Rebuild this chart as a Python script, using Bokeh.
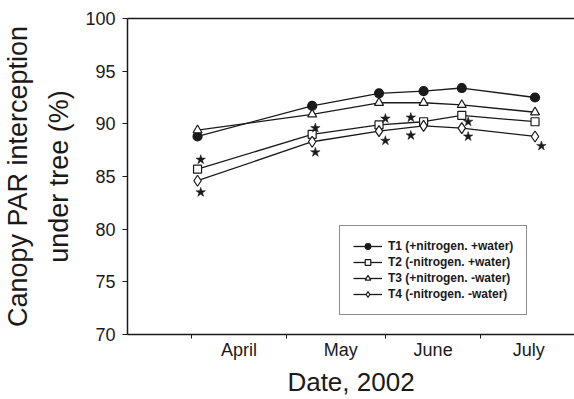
import numpy as np
import pandas as pd
from bokeh.plotting import figure
from bokeh.models import (FixedTicker, LinearAxis, Legend, LegendItem, Range1d)
from bokeh.embed import file_html
from bokeh.resources import INLINE

# ---- data ----
dates = ["2002-04-03", "2002-05-09", "2002-05-30", "2002-06-13", "2002-06-25", "2002-07-18"]
t1 = [88.8, 91.7, 92.9, 93.1, 93.4, 92.5]
t2 = [85.7, 89.0, 89.9, 90.2, 90.8, 90.2]
t3 = [89.4, 90.9, 92.0, 92.0, 91.8, 91.1]
t4 = [84.6, 88.3, 89.3, 89.8, 89.6, 88.8]

star_dates = ["2002-04-04", "2002-04-04", "2002-05-10", "2002-05-10", "2002-06-01", "2002-06-01",
              "2002-06-09", "2002-06-09", "2002-06-27", "2002-06-27", "2002-07-20"]
star_vals = [86.6, 83.5, 89.6, 87.3, 90.5, 88.4, 90.6, 88.9, 90.2, 88.8, 87.9]

month_starts = ["2002-04-01", "2002-05-01", "2002-06-01", "2002-07-01"]
month_label_dates = ["2002-04-16", "2002-05-18", "2002-06-16", "2002-07-16"]
month_labels = ["April", "May", "June", "July"]
y_ticks = [70, 75, 80, 85, 90, 95, 100]

series_labels = ["T1 (+nitrogen. +water)", "T2 (-nitrogen. +water)",
                 "T3 (+nitrogen. -water)", "T4 (-nitrogen. -water)"]

# ---- derived ----
def doy(lst):
    return [int(v) for v in pd.to_datetime(lst).dayofyear]

x = doy(dates)
sx = doy(star_dates)
ms = doy(month_starts)
mids = doy(month_label_dates)

FONT = "Liberation Sans"
INK = "#1a1a1a"

p = figure(width=574, height=399, output_backend="svg", toolbar_location=None,
           x_range=Range1d(71, 211.4), y_range=Range1d(70, 100),
           min_border_left=125, min_border_right=0, min_border_top=18, min_border_bottom=65)
p.outline_line_color = None
p.xgrid.visible = False
p.ygrid.visible = False
p.background_fill_color = "white"
p.border_fill_color = "white"

# y axis
ya = p.yaxis[0]
ya.ticker = FixedTicker(ticks=y_ticks)
ya.major_label_text_font = FONT
ya.major_label_text_font_size = "18px"
ya.major_label_text_color = INK
ya.major_tick_out = 5
ya.major_tick_in = 0
ya.minor_tick_line_color = None
ya.axis_line_color = INK
ya.axis_line_width = 1.5
ya.major_tick_line_color = INK
ya.major_label_standoff = 7
ya.axis_label = "Canopy PAR interception\nunder tree (%)"
ya.axis_label_text_font = FONT
ya.axis_label_text_font_size = "27px"
ya.axis_label_text_font_style = "normal"
ya.axis_label_text_color = INK
ya.axis_label_text_line_height = 1.37
ya.axis_label_standoff = 8

# x axis
xa = p.xaxis[0]
xa.ticker = FixedTicker(ticks=mids, minor_ticks=ms)
xa.major_label_overrides = {m: l for m, l in zip(mids, month_labels)}
xa.major_label_text_font = FONT
xa.major_label_text_font_size = "18px"
xa.major_label_text_color = INK
xa.major_tick_out = 0
xa.major_tick_in = 0
xa.major_tick_line_color = None
xa.minor_tick_out = 4
xa.minor_tick_in = 0
xa.minor_tick_line_color = INK
xa.axis_line_color = INK
xa.axis_line_width = 1.5
xa.major_label_standoff = 1
xa.axis_label = "Date, 2002"
xa.axis_label_text_font = FONT
xa.axis_label_text_font_size = "26px"
xa.axis_label_text_font_style = "normal"
xa.axis_label_text_color = INK
xa.axis_label_standoff = 4

# top border line
top = LinearAxis(ticker=FixedTicker(ticks=[]), major_tick_line_color=None,
                 minor_tick_line_color=None, major_label_text_font_size="0px",
                 axis_line_color=INK, axis_line_width=1.5)
p.add_layout(top, "above")

# series
lw = 1.3
r1l = p.line(x, t1, line_color=INK, line_width=lw)
r2l = p.line(x, t2, line_color=INK, line_width=lw)
r3l = p.line(x, t3, line_color=INK, line_width=lw)
r4l = p.line(x, t4, line_color=INK, line_width=lw)
r1m = p.scatter(x, t1, marker="circle", size=9, fill_color=INK, line_color=INK, line_width=1.2)
r2m = p.scatter(x, t2, marker="square", size=8, fill_color="white", line_color=INK, line_width=1.2)
r3m = p.scatter(x, t3, marker="triangle", size=9, fill_color="white", line_color=INK, line_width=1.2)
r4m = p.scatter(x, t4, marker="diamond", size=11, fill_color="white", line_color=INK, line_width=1.2)

# significance stars
p.scatter(sx, star_vals, marker="star", size=10, fill_color=INK, line_color=INK, line_width=0.5)

legend = Legend(items=[LegendItem(label=series_labels[0], renderers=[r1l, r1m]),
                       LegendItem(label=series_labels[1], renderers=[r2l, r2m]),
                       LegendItem(label=series_labels[2], renderers=[r3l, r3m]),
                       LegendItem(label=series_labels[3], renderers=[r4l, r4m])],
                location=(212, 19))
legend.label_text_font = FONT
legend.label_text_font_size = "12px"
legend.label_text_font_style = "bold"
legend.label_text_color = INK
legend.glyph_width = 29
legend.glyph_height = 14
legend.label_height = 14
legend.label_standoff = 6
legend.spacing = 2
legend.padding = 13
legend.margin = 0
legend.border_line_color = INK
legend.border_line_width = 1.2
legend.background_fill_color = "white"
legend.background_fill_alpha = 1
p.add_layout(legend, "center")

open("out.html", "w").write(file_html(p, INLINE))
